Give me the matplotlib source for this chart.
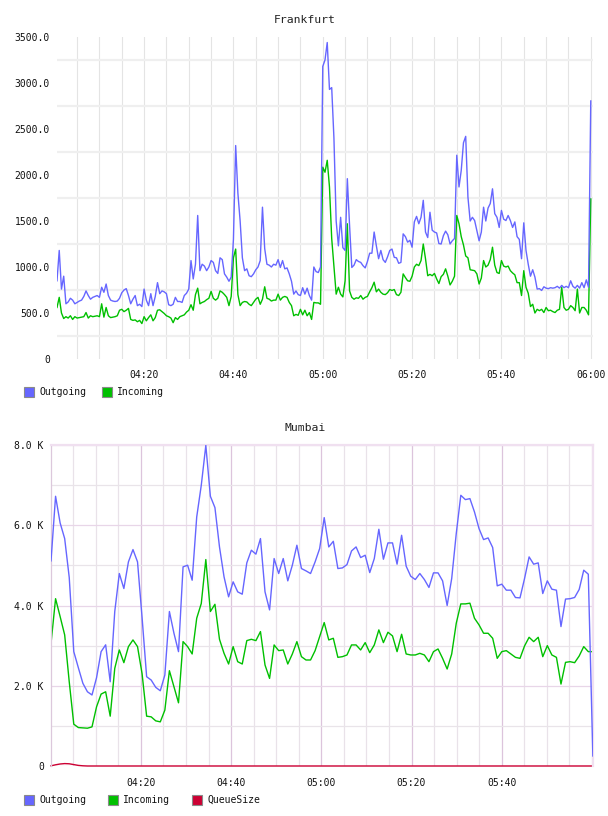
import numpy as np
import matplotlib
matplotlib.use('Agg')
from matplotlib import pyplot as plt
from matplotlib.patches import Rectangle

# Frankfurt: one sample every 30 s, first one at 04:00:30
frankfurtOutgoing = [
    850, 1180, 760, 900, 600, 620, 660, 640, 600, 615,
    630, 640, 680, 740, 690, 650, 670, 680, 690, 670,
    780, 725, 815, 690, 640, 630, 625, 630, 660, 720,
    750, 765, 690, 600, 650, 690, 580, 595, 570, 760,
    640, 580, 710, 580, 680, 830, 710, 740, 730, 710,
    590, 580, 595, 670, 625, 625, 615, 690, 715, 760,
    1070, 870, 1030, 1560, 960, 1030, 1010, 960, 1000, 1070,
    1050, 960, 930, 1100, 1080, 925, 890, 845, 890, 1300,
    2320, 1800, 1500, 1100, 960, 980, 905, 895, 925, 970,
    1000, 1070, 1650, 1200, 1030, 1020, 1000, 1030, 1020, 1080,
    995, 1070, 980, 990, 925, 845, 705, 740, 700, 690,
    775, 705, 770, 690, 640, 1000, 950, 940, 1000, 3180,
    3250, 3440, 2930, 2950, 2400, 1500, 1230, 1540, 1210, 1180,
    1960, 1450, 995, 1020, 1080, 1060, 1050, 1015, 990, 1060,
    1150, 1150, 1380, 1230, 1090, 1180, 1080, 1050, 1110, 1180,
    1195, 1105, 1100, 1040, 1050, 1360, 1330, 1270, 1290, 1215,
    1490, 1550, 1470, 1540, 1725, 1380, 1320, 1595, 1400, 1380,
    1370, 1255, 1250, 1340, 1390, 1350, 1250, 1285, 1310, 2215,
    1870, 2050, 2350, 2420, 1760, 1500, 1540, 1505, 1395, 1285,
    1380, 1650, 1500, 1640, 1690, 1850, 1580, 1540, 1430, 1615,
    1520, 1505, 1560, 1505, 1430, 1490, 1330, 1300, 1090, 1480,
    1180, 1030, 900, 970, 890, 760, 765, 745, 785, 770,
    765, 775, 770, 775, 790, 770, 800, 775, 790, 775,
    850, 790, 770, 800, 770, 830, 775, 860, 780, 2805,
]
frankfurtIncoming = [
    560, 670, 500, 440, 460, 445, 470, 430, 460, 445,
    450, 455, 460, 505, 445, 470, 460, 465, 470, 460,
    600, 455, 560, 470, 450, 455, 460, 470, 530, 540,
    515, 530, 550, 430, 420, 425, 405, 420, 385, 460,
    415, 450, 480, 415, 450, 530, 535, 515, 495, 470,
    460, 445, 395, 450, 430, 460, 470, 480, 510, 530,
    590, 530, 700, 770, 600, 615, 625, 645, 660, 735,
    660, 640, 660, 740, 725, 700, 670, 580, 680, 1100,
    1195, 700, 580, 615, 625, 620, 595, 580, 615, 650,
    670, 595, 650, 785, 660, 650, 630, 640, 640, 705,
    640, 670, 680, 670, 615, 580, 470, 485, 475, 540,
    480, 530, 470, 505, 430, 615, 610, 610, 595, 2085,
    2030, 2160, 1870, 1310, 1000, 705, 780, 705, 675, 850,
    1470, 740, 670, 650, 665, 660, 690, 650, 670, 680,
    730, 775, 835, 730, 760, 725, 705, 700, 720, 755,
    745, 755, 700, 690, 725, 925, 885, 850, 845, 900,
    1000, 1030, 1015, 1070, 1250, 1090, 905, 920, 905, 930,
    870, 820, 895, 920, 980, 900, 805, 845, 900, 1560,
    1470, 1330, 1240, 1120, 1100, 970, 965, 960, 925, 815,
    880, 1070, 1000, 1020, 1080, 1215, 1020, 940, 930, 1070,
    1010, 1000, 1010, 960, 935, 915, 830, 830, 690, 960,
    780, 715, 570, 595, 500, 540, 525, 540, 505, 560,
    525, 530, 515, 505, 530, 540, 780, 560, 530, 540,
    580, 560, 525, 760, 500, 560, 560, 530, 480, 1740,
]

# Mumbai: about one sample per minute
mumbaiOutgoing = [
    5112, 6722, 6058, 5668, 4700, 2850, 2450, 2060, 1850, 1770,
    2200, 2850, 3020, 2100, 3850, 4797, 4423, 5087, 5394, 5087,
    3700, 2225, 2142, 1960, 1875, 2267, 3850, 3308, 2850, 4963,
    5004, 4630, 6207, 6996, 7990, 6722, 6440, 5460, 4714, 4216,
    4590, 4340, 4282, 5062, 5378, 5280, 5668, 4340, 3890, 5170,
    4797, 5170, 4614, 5004, 5502, 4921, 4863, 4797, 5087, 5419,
    6190, 5460, 5600, 4921, 4937, 5020, 5360, 5460, 5195, 5253,
    4820, 5170, 5900, 5153, 5560, 5560, 5030, 5750, 4980, 4730,
    4647, 4797, 4647, 4450, 4813, 4813, 4614, 4000, 4672, 5792,
    6747, 6639, 6664, 6332, 5917, 5643, 5684, 5444, 4490, 4531,
    4382, 4382, 4199, 4190, 4672, 5211, 5030, 5062, 4298, 4614,
    4406, 4382, 3475, 4160, 4170, 4200, 4400, 4880, 4780, 250,
]
mumbaiIncoming = [
    3058, 4170, 3725, 3267, 2100, 1042, 958, 950, 942, 975,
    1475, 1792, 1850, 1242, 2433, 2892, 2575, 2975, 3142, 2975,
    2300, 1242, 1225, 1125, 1100, 1392, 2375, 1975, 1575, 3100,
    2975, 2792, 3683, 4050, 5145, 3850, 4030, 3158, 2808, 2542,
    2975, 2600, 2542, 3125, 3158, 3125, 3350, 2517, 2183, 3017,
    2875, 2892, 2542, 2792, 3100, 2725, 2642, 2642, 2875, 3225,
    3575, 3142, 3183, 2708, 2725, 2767, 3017, 3017, 2892, 3075,
    2825, 3017, 3392, 3075, 3333, 3242, 2850, 3283, 2792, 2767,
    2767, 2808, 2767, 2600, 2850, 2917, 2683, 2417, 2792, 3558,
    4040, 4040, 4058, 3683, 3517, 3308, 3308, 3183, 2683, 2850,
    2875, 2792, 2708, 2683, 2992, 3208, 3100, 3208, 2725, 3000,
    2767, 2708, 2042, 2583, 2600, 2575, 2742, 2975, 2850, 2850,
]
mumbaiQueueSize = [5, 30, 50, 60, 55, 35, 15, 5] + [0] * 112

timeLabels = ['04:20', '04:40', '05:00', '05:20', '05:40', '06:00']
frankfurtYLabels = ['0', '500.0', '1000.0', '1500.0', '2000.0', '2500.0', '3000.0', '3500.0']
mumbaiYLabels = ['0', '2.0 K', '4.0 K', '6.0 K', '8.0 K']

BLUE = '#6666ff'
GREEN = '#00c000'
RED = '#cc0033'
FONT = 'DejaVu Sans Mono'

W, H = 608, 816


def box(left, top, right, bottom):
    # pixel box -> figure fraction
    return [left / W, 1 - bottom / H, (right - left) / W, (bottom - top) / H]


def drawLegend(fig, entries, y):
    for x, color, label in entries:
        fig.patches.append(Rectangle((x / W, 1 - (y + 5) / H), 10 / W, 10 / H,
                                     transform=fig.transFigure, facecolor=color,
                                     edgecolor='#8a8a8a', lw=0.8))
        fig.text((x + 15) / W, 1 - y / H, label, family=FONT, fontsize=7,
                 color='#111111', ha='left', va='center')


def styleTicks(ax, xpad, ypad):
    ax.tick_params(which='both', length=0)
    ax.tick_params(axis='x', pad=xpad)
    ax.tick_params(axis='y', pad=ypad)
    for lab in ax.get_xticklabels() + ax.get_yticklabels():
        lab.set_family(FONT)
        lab.set_fontsize(7)
        lab.set_color('#111111')


def drawFrankfurt(fig):
    ax = fig.add_axes(box(57, 37, 593, 359))
    t = np.arange(1, len(frankfurtOutgoing) + 1) * 0.5
    ax.plot(t, frankfurtIncoming, color=GREEN, lw=1.0)
    ax.plot(t, frankfurtOutgoing, color=BLUE, lw=1.0)
    ax.set_xlim(0.5, 120.5)
    ax.set_ylim(0, 3500)
    ax.xaxis.remove_overlapping_locs = False
    ax.set_xticks(np.arange(20, 121, 20))
    ax.set_xticklabels(timeLabels)
    ax.set_xticks(np.arange(5, 121, 5), minor=True)
    ax.set_yticks(np.arange(0, 3501, 500))
    ax.set_yticklabels(frankfurtYLabels)
    ax.set_yticks(np.arange(250, 3500, 500), minor=True)
    ax.set_axisbelow(True)
    ax.grid(which='minor', axis='x', color='#e4e4e4', lw=0.8)
    ax.grid(which='minor', axis='y', color='#efefef', lw=1.6)
    for s in ax.spines.values():
        s.set_visible(False)
    styleTicks(ax, 8, 5)
    fig.text(305 / W, 1 - 20 / H, 'Frankfurt', family=FONT, fontsize=8.2,
             color='#222222', ha='center', va='center')
    drawLegend(fig, [(24, BLUE, 'Outgoing'), (102, GREEN, 'Incoming')], 392)


def drawMumbai(fig):
    ax = fig.add_axes(box(50.7, 445, 593.3, 766))
    t = np.linspace(0.07, 120.2, len(mumbaiOutgoing))
    ax.plot(t, mumbaiIncoming, color=GREEN, lw=1.0)
    ax.plot(t, mumbaiOutgoing, color=BLUE, lw=1.0, zorder=3)
    ax.plot(t, mumbaiQueueSize, color=RED, lw=1.0, clip_on=False)
    ax.set_xlim(0, 120.3)
    ax.set_ylim(0, 8000)
    ax.set_xticks(np.arange(20, 101, 20))
    ax.set_xticklabels(timeLabels[:5])
    ax.set_xticks(np.arange(5, 121, 5), minor=True)
    ax.set_yticks(np.arange(0, 8001, 2000))
    ax.set_yticklabels(mumbaiYLabels)
    ax.set_yticks(np.arange(1000, 8000, 2000), minor=True)
    ax.set_axisbelow(True)
    ax.grid(which='major', axis='x', color='#dcc4dc', lw=0.9)
    ax.grid(which='minor', axis='x', color='#e9e2e9', lw=0.9)
    ax.grid(which='major', axis='y', color='#e8d6e8', lw=0.9)
    ax.grid(which='minor', axis='y', color='#e9e4e9', lw=0.9)
    ax.spines['bottom'].set_visible(False)
    ax.spines['left'].set_color('#dcc8dc')
    ax.spines['left'].set_linewidth(0.9)
    ax.spines['top'].set_color('#f0e0f0')
    ax.spines['top'].set_linewidth(1.6)
    ax.spines['right'].set_color('#f0e0f0')
    ax.spines['right'].set_linewidth(1.6)
    styleTicks(ax, 9, 5)
    fig.text(305 / W, 1 - 428 / H, 'Mumbai', family=FONT, fontsize=8.2,
             color='#222222', ha='center', va='center')
    drawLegend(fig, [(24, BLUE, 'Outgoing'), (108, GREEN, 'Incoming'),
                     (192, RED, 'QueueSize')], 800)


def main():
    fig = plt.figure(figsize=(W / 100, H / 100), dpi=100)
    drawFrankfurt(fig)
    drawMumbai(fig)
    fig.savefig('out.png', dpi=100)


if __name__ == "__main__":
    main()
